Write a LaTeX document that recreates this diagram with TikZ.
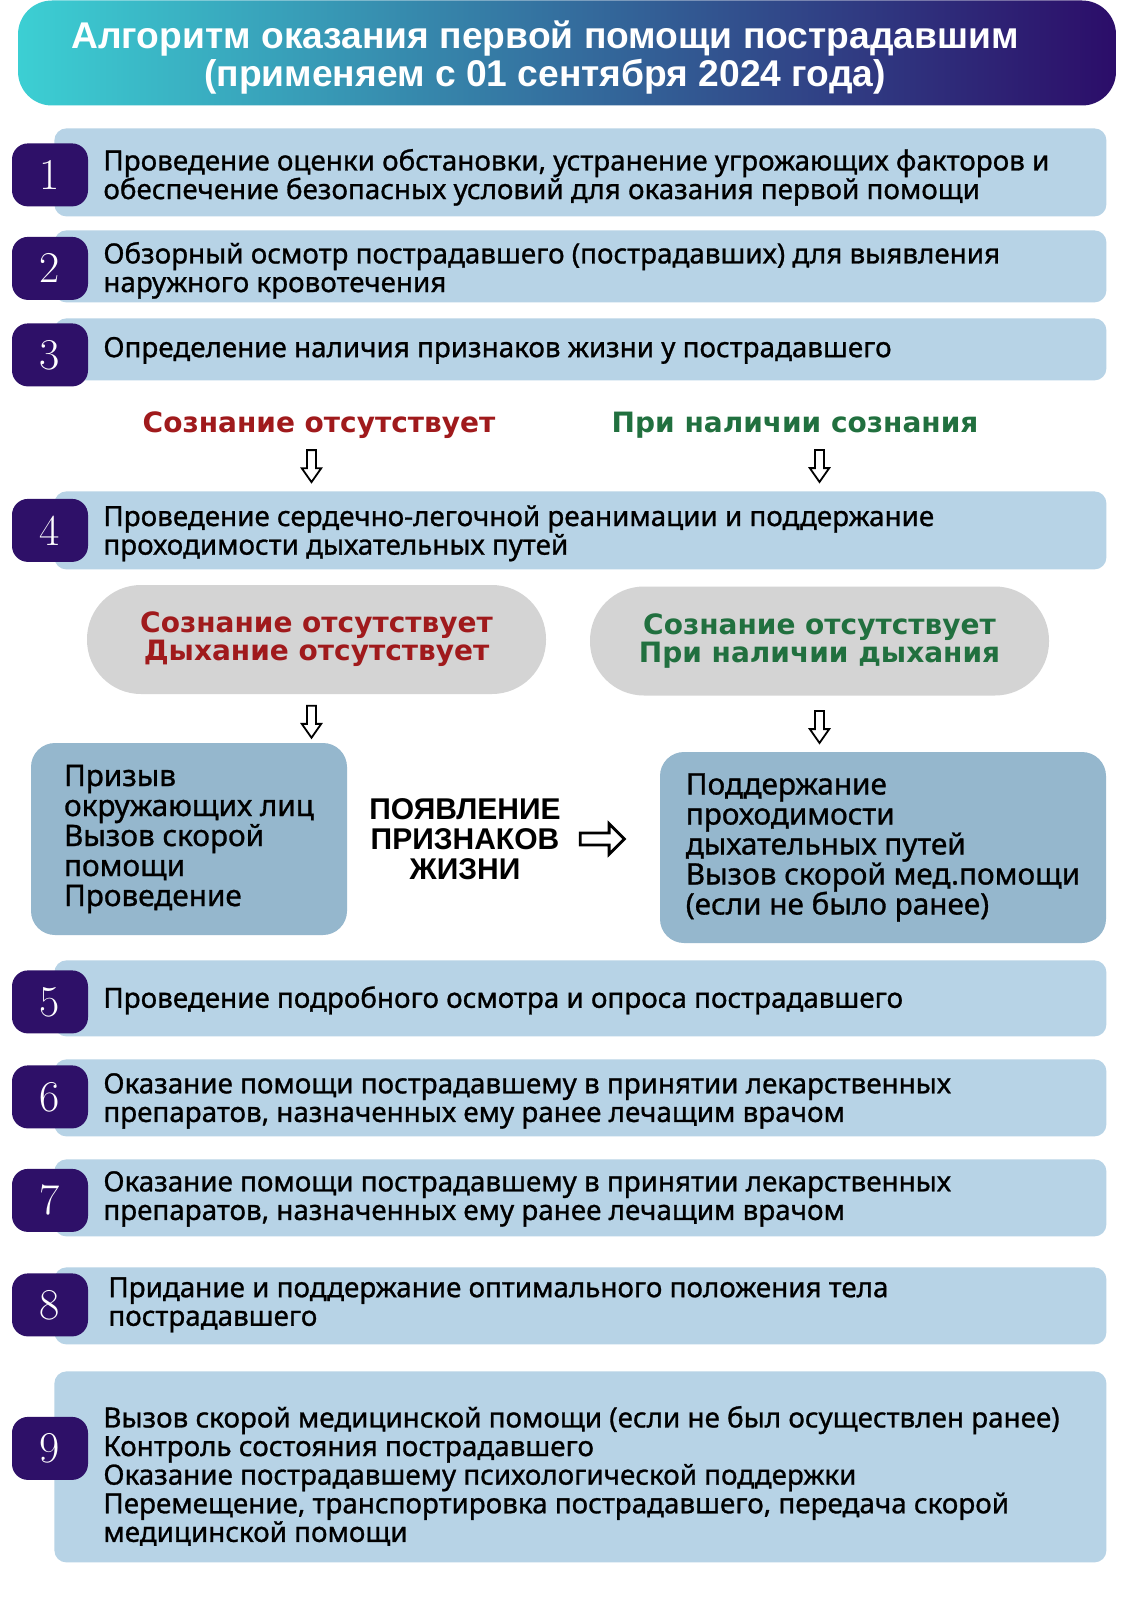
\documentclass[tikz,border=0pt]{standalone}
\usepackage{fontspec}
\newfontfamily\bodyfont[FakeBold=1.0]{Noto Sans}
\newfontfamily\headfont{Liberation Sans}
\newfontfamily\widefont{DejaVu Sans}
\usetikzlibrary{positioning,calc,shapes.arrows}
\definecolor{titleteal}{RGB}{60,207,211}
\definecolor{titleviolet}{RGB}{44,13,105}
\definecolor{stepblue}{RGB}{183,211,230}
\definecolor{badgeviolet}{RGB}{46,16,104}
\definecolor{pillgrey}{RGB}{212,212,212}
\definecolor{actionblue}{RGB}{149,183,205}
\definecolor{alarmred}{RGB}{160,26,28}
\definecolor{okgreen}{RGB}{33,112,63}
\tikzset{
  titlebar/.style={rectangle, rounded corners=17pt, left color=titleteal, right color=titleviolet, minimum width=549pt, minimum height=52.5pt, inner sep=0pt},
  titletext/.style={align=center, text=white, font=\headfont\bfseries\fontsize{18.6}{18.75}\selectfont, inner sep=0pt},
  stepbox/.style={rectangle, rounded corners=6pt, fill=stepblue, minimum width=526pt, inner sep=0pt, anchor=north west},
  steptext/.style={anchor=west, align=left, font=\bodyfont\fontsize{13.9}{14.3}\selectfont, inner sep=0pt},
  badge/.style={rectangle, rounded corners=8pt, fill=badgeviolet, minimum width=38pt, minimum height=31.5pt, inner sep=0pt, text=white, font=\rmfamily\fontsize{22}{22}\selectfont},
  statelabel/.style={font=\widefont\bfseries\fontsize{14}{14}\selectfont, inner sep=0pt, align=center},
  pill/.style={statelabel, rectangle, rounded corners=27pt, fill=pillgrey, minimum width=229.5pt, minimum height=54.5pt},
  actionbox/.style={rectangle, rounded corners=12pt, fill=actionblue, align=left, inner sep=0pt, font=\bodyfont\fontsize{14.85}{15}\selectfont},
  signtext/.style={align=center, inner sep=0pt, font=\headfont\bfseries\fontsize{15}{15}\selectfont},
  downarrow/.style={single arrow, draw=black, fill=white, line width=0.9pt, shape border rotate=270, minimum height=16pt, inner sep=1.8pt, single arrow head extend=2.6pt, single arrow tip angle=70},
  rightarrow/.style={single arrow, draw=black, fill=white, line width=1.4pt, minimum height=22pt, inner sep=2.3pt, single arrow head extend=4.6pt, single arrow tip angle=90}
}

\begin{document}
\begin{tikzpicture}[x=0.5pt, y=-0.5pt]
\fill[white] (0,0) rectangle (1131,1600);
\useasboundingbox (0,0) rectangle (1131,1600);

% title
\node[titlebar] (title) at (567,53) {};
\node[titletext] (titletxt) at ([xshift=-11pt, yshift=-2.3pt]title.center) {Алгоритм оказания первой помощи пострадавшим\\(применяем с 01 сентября 2024 года)};

% steps
\node[stepbox, minimum height=44pt] (s1) at (54,128) {};
\node[stepbox, minimum height=36pt] (s2) at (54,230) {};
\node[stepbox, minimum height=31pt] (s3) at (54,318) {};
\node[stepbox, minimum height=39pt] (s4) at (54,491) {};
\node[stepbox, minimum height=38pt] (s5) at (54,960) {};
\node[stepbox, minimum height=38.5pt] (s6) at (54,1059) {};
\node[stepbox, minimum height=38.5pt] (s7) at (54,1159) {};
\node[stepbox, minimum height=38.5pt] (s8) at (54,1267) {};
\node[stepbox, minimum height=95.5pt] (s9) at (54,1371) {};

\foreach \n/\dy in {1/-1.25,2/-1,3/-2.75,4/0,5/-1.75,6/0.5,7/-1.25,8/0.5,9/9.25}
  \node[badge] (b\n) at ([xshift=-2pt, yshift=\dy pt]s\n.west) {\n};

\node[steptext] (t1) at ([xshift=24.5pt, yshift=-2.5pt]s1.west) {Проведение оценки обстановки, устранение угрожающих факторов и\\обеспечение безопасных условий для оказания первой помощи};
\node[steptext] (t2) at ([xshift=24.5pt, yshift=-2pt]s2.west) {Обзорный осмотр пострадавшего (пострадавших) для выявления\\наружного кровотечения};
\node[steptext] (t3) at ([xshift=24.5pt, yshift=-0.5pt]s3.west) {Определение наличия признаков жизни у пострадавшего};
\node[steptext] (t4) at ([xshift=24.5pt, yshift=-1.5pt]s4.west) {Проведение сердечно-легочной реанимации и поддержание\\проходимости дыхательных путей};
\node[steptext] (t5) at ([xshift=24.5pt, yshift=-1pt]s5.west) {Проведение подробного осмотра и опроса пострадавшего};
\node[steptext] (t6) at ([xshift=24.5pt, yshift=-1.5pt]s6.west) {Оказание помощи пострадавшему в принятии лекарственных\\препаратов, назначенных ему ранее лечащим врачом};
\node[steptext] (t7) at ([xshift=24.5pt, yshift=-0.5pt]s7.west) {Оказание помощи пострадавшему в принятии лекарственных\\препаратов, назначенных ему ранее лечащим врачом};
\node[steptext] (t8) at ([xshift=27pt, yshift=0.5pt]s8.west) {Придание и поддержание оптимального положения тела\\пострадавшего};
\node[steptext] (t9) at ([xshift=24.5pt, yshift=-4.5pt]s9.west) {Вызов скорой медицинской помощи (если не был осуществлен ранее)\\Контроль состояния пострадавшего\\Оказание пострадавшему психологической поддержки\\Перемещение, транспортировка пострадавшего, передача скорой\\медицинской помощи};

% branches
\node[statelabel, text=alarmred] (lblL) at (319,425) {Сознание отсутствует};
\node[statelabel, text=okgreen] (lblR) at (795,425) {При наличии сознания};

\node[pill, text=alarmred] (pillL) at (316.5,639.5) {Сознание отсутствует\\Дыхание отсутствует};
\node[pill, text=okgreen] (pillR) at (819.5,641) {Сознание отсутствует\\При наличии дыхания};

\node[actionbox, minimum width=158pt, minimum height=96pt] (lbox) at (189,839) {Призыв\\окружающих лиц\\Вызов скорой\\помощи\\Проведение};
\node[actionbox, minimum width=223pt, minimum height=95.5pt] (rbox) at (883,847.5) {Поддержание\\проходимости\\дыхательных путей\\Вызов скорой мед.помощи\\(если не было ранее)};

\node[signtext] (mid) at (465,839) {ПОЯВЛЕНИЕ\\ПРИЗНАКОВ\\ЖИЗНИ};

% arrows
\path (lblL.south -| pillL.north) -- (s4.north -| pillL.north) node[midway, downarrow, xshift=-2.5pt, yshift=1pt] {};
\path (lblR.south -| pillR.north) -- (s4.north -| pillR.north) node[midway, downarrow, yshift=1pt] {};
\path (pillL.south) -- (pillL.south |- lbox.north) node[midway, downarrow, xshift=-2.5pt] {};
\path (pillR.south) -- (pillR.south |- rbox.north) node[midway, downarrow] {};
\path (mid.east) -- (mid.east -| rbox.west) node[midway, rightarrow, xshift=-5.5pt] {};

\end{tikzpicture}
\end{document}
